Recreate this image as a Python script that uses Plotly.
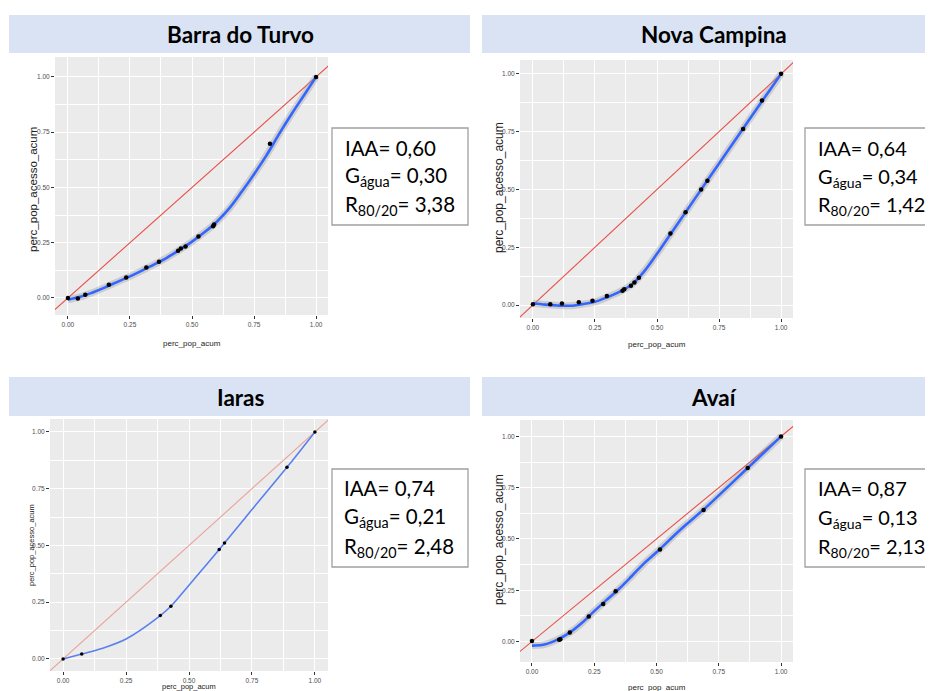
import plotly.graph_objects as go

# page is shown with the browser's default 8px body margin; keep the figure inside the body box
OFF = 8
W, H = 933 - 2 * OFF, 691 - OFF

# ---------------- data ----------------
titles = ["Barra do Turvo", "Nova Campina", "Iaras", "Avaí"]
iaa = ["0,60", "0,64", "0,74", "0,87"]
g_agua = ["0,30", "0,34", "0,21", "0,13"]
r_80_20 = ["3,38", "1,42", "2,48", "2,13"]

tick_vals = [0, 0.25, 0.5, 0.75, 1.0]
tick_text = ["0.00", "0.25", "0.50", "0.75", "1.00"]
equality_line = [-0.2, 1.2]

# Barra do Turvo
bt_x = [0.0, 0.04, 0.07, 0.165, 0.235, 0.316, 0.367, 0.444, 0.455, 0.474, 0.526, 0.585, 0.589, 0.814, 1.0]
bt_y = [0.0, -0.002, 0.015, 0.06, 0.093, 0.138, 0.164, 0.214, 0.224, 0.233, 0.278, 0.325, 0.332, 0.698, 1.0]
bt_fit_x = [0.0, 0.05, 0.1, 0.15, 0.2, 0.25, 0.3, 0.35, 0.4, 0.45, 0.5, 0.55, 0.6, 0.65, 0.7, 0.75, 0.8, 0.85, 0.9, 0.95, 1.0]
bt_fit_y = [-0.008, 0.005, 0.025, 0.048, 0.073, 0.098, 0.125, 0.153, 0.183, 0.218, 0.255, 0.297, 0.345, 0.405, 0.48, 0.56, 0.645, 0.74, 0.83, 0.915, 1.0]

# Nova Campina
nc_x = [0.0, 0.07, 0.117, 0.185, 0.24, 0.298, 0.361, 0.368, 0.395, 0.409, 0.427, 0.554, 0.615, 0.678, 0.703, 0.847, 0.923, 1.0]
nc_y = [0.003, 0.003, 0.007, 0.012, 0.019, 0.039, 0.062, 0.068, 0.084, 0.098, 0.118, 0.31, 0.401, 0.50, 0.538, 0.762, 0.885, 1.0]
nc_fit_x = [0.0, 0.05, 0.1, 0.15, 0.2, 0.25, 0.3, 0.35, 0.4, 0.45, 0.5, 0.55, 0.6, 0.65, 0.7, 0.75, 0.8, 0.85, 0.9, 0.95, 1.0]
nc_fit_y = [0.008, 0.002, -0.002, -0.003, 0.004, 0.014, 0.034, 0.058, 0.09, 0.148, 0.222, 0.30, 0.378, 0.456, 0.534, 0.612, 0.69, 0.768, 0.846, 0.923, 1.0]

# Iaras
ia_x = [0.0, 0.074, 0.386, 0.428, 0.62, 0.641, 0.889, 1.0]
ia_y = [0.0, 0.022, 0.191, 0.232, 0.482, 0.511, 0.844, 1.0]
ia_fit_x = [0.0, 0.074, 0.15, 0.25, 0.386, 0.428, 0.5, 0.62, 0.641, 0.75, 0.889, 1.0]
ia_fit_y = [0.0, 0.022, 0.045, 0.088, 0.191, 0.232, 0.325, 0.482, 0.511, 0.658, 0.844, 1.0]

# Avaí
av_x = [0.0, 0.109, 0.114, 0.152, 0.228, 0.286, 0.336, 0.514, 0.689, 0.866, 1.0]
av_y = [0.002, 0.008, 0.011, 0.044, 0.122, 0.183, 0.245, 0.448, 0.641, 0.846, 1.0]
av_fit_x = [0.0, 0.05, 0.1, 0.15, 0.2, 0.25, 0.3, 0.35, 0.4, 0.45, 0.5, 0.6, 0.7, 0.8, 0.9, 1.0]
av_fit_y = [-0.02, -0.015, 0.008, 0.042, 0.09, 0.148, 0.203, 0.257, 0.318, 0.381, 0.435, 0.55, 0.655, 0.77, 0.885, 1.0]

series = [
    (bt_x, bt_y, bt_fit_x, bt_fit_y),
    (nc_x, nc_y, nc_fit_x, nc_fit_y),
    (ia_x, ia_y, ia_fit_x, ia_fit_y),
    (av_x, av_y, av_fit_x, av_fit_y),
]

# ---------------- layout (pixel geometry of the page) ----------------
def fx(px):
    return (px - OFF) / W

def fy(py):
    return 1 - (py - OFF) / H

ARIAL = "Liberation Sans, Arial, sans-serif"
CALIBRI = "Lato, Open Sans, sans-serif"

panels = [
    dict(box=(55, 57, 328, 315), xr=[-0.052, 1.048], yr=[-0.077, 1.09],
         tickfont=dict(family=ARIAL, size=6.5, color="#4D4D4D"),
         xt=(192, 343, 8), yt=(33, 190, 11.5),
         red="#E8504A", blue="#3366FF", lw=2.6, ms=4.5,
         banner=(9, 15, 470, 53), tbox=(332, 128, 468, 225), tx=343, ty=(148, 176, 205), fs=20.5),
    dict(box=(520, 60, 793, 318), xr=[-0.052, 1.048], yr=[-0.056, 1.06],
         tickfont=dict(family=ARIAL, size=6.5, color="#4D4D4D"),
         xt=(657, 345, 8), yt=(499, 188, 12),
         red="#E8504A", blue="#3366FF", lw=2.6, ms=4.5,
         banner=(482, 15, 945, 53), tbox=(805, 128, 945, 225), tx=816, ty=(148, 177, 205), fs=20),
    dict(box=(50, 419, 328, 671), xr=[-0.052, 1.052], yr=[-0.053, 1.057],
         tickfont=dict(family=ARIAL, size=6.5, color="#4D4D4D"),
         xt=(189, 686, 7.5), yt=(31, 545, 7.5),
         red="#EBA29C", blue="#5A80EE", lw=1.6, ms=3.5,
         banner=(9, 377, 470, 416), tbox=(332, 469, 468, 567), tx=342, ty=(488, 517, 547), fs=20.5),
    dict(box=(520, 420, 793, 662), xr=[-0.048, 1.048], yr=[-0.10, 1.08],
         tickfont=dict(family=ARIAL, size=6.5, color="#4D4D4D"),
         xt=(657, 687, 8), yt=(499, 540, 12),
         red="#E8504A", blue="#3366FF", lw=2.6, ms=4.5,
         banner=(482, 377, 945, 416), tbox=(805, 469, 945, 567), tx=816, ty=(488, 518, 547), fs=20),
]

fig = go.Figure()
shapes = []
annotations = []
layout_axes = {}

for i, (p, (sx, sy, fxs, fys)) in enumerate(zip(panels, series)):
    n = "" if i == 0 else str(i + 1)
    xa, ya = "x" + n, "y" + n
    x0, y0, x1, y1 = p["box"]
    small = i == 2

    fig.add_trace(go.Scatter(x=equality_line, y=equality_line, mode="lines", xaxis=xa, yaxis=ya,
                             line=dict(color=p["red"], width=1.1),
                             hoverinfo="skip", showlegend=False))
    if not small:
        fig.add_trace(go.Scatter(x=fxs, y=fys, mode="lines", xaxis=xa, yaxis=ya,
                                 line=dict(color="rgba(150,150,150,0.35)", width=7, shape="spline"),
                                 hoverinfo="skip", showlegend=False))
    fig.add_trace(go.Scatter(x=fxs, y=fys, mode="lines", xaxis=xa, yaxis=ya,
                             line=dict(color=p["blue"], width=p["lw"], shape="spline"),
                             showlegend=False))
    fig.add_trace(go.Scatter(x=sx, y=sy, mode="markers", xaxis=xa, yaxis=ya,
                             marker=dict(color="black", size=p["ms"]),
                             showlegend=False))

    common = dict(showgrid=True, gridcolor="white", gridwidth=1.1, zeroline=False,
                  tickvals=tick_vals, ticktext=tick_text, ticks="outside", ticklen=3,
                  tickcolor="#333333", tickwidth=0.8, tickfont=p["tickfont"], showline=False,
                  minor=dict(tickvals=[0.125, 0.375, 0.625, 0.875], showgrid=True,
                             gridcolor="white", gridwidth=0.5, ticks=""),
                  fixedrange=True)
    layout_axes["xaxis" + n] = dict(common, domain=[fx(x0), fx(x1)], range=p["xr"], anchor=ya)
    layout_axes["yaxis" + n] = dict(common, domain=[fy(y1), fy(y0)], range=p["yr"], anchor=xa)

    shapes.append(dict(type="rect", xref="paper", yref="paper", x0=fx(x0), x1=fx(x1), y0=fy(y1), y1=fy(y0),
                       fillcolor="#EBEBEB", line=dict(width=0), layer="below"))

    # banner
    bx0, by0, bx1, by1 = p["banner"]
    shapes.append(dict(type="rect", xref="paper", yref="paper", x0=fx(bx0), x1=fx(bx1), y0=fy(by1), y1=fy(by0),
                       fillcolor="#DAE3F3", line=dict(width=0), layer="below"))
    annotations.append(dict(text="<b>%s</b>" % titles[i], xref="paper", yref="paper",
                            x=fx(240 if i % 2 == 0 else 714), y=fy((by0 + by1) / 2 + 1),
                            xanchor="center", yanchor="middle", showarrow=False,
                            font=dict(family=CALIBRI, size=22.5, color="black")))

    # axis titles
    xtx, xty, xts = p["xt"]
    annotations.append(dict(text="perc_pop_acum", xref="paper", yref="paper", x=fx(xtx), y=fy(xty),
                            xanchor="center", yanchor="middle", showarrow=False,
                            font=dict(family=ARIAL, size=xts, color="#222222")))
    ytx, yty, yts = p["yt"]
    annotations.append(dict(text="perc_pop_acesso_acum", xref="paper", yref="paper", x=fx(ytx), y=fy(yty),
                            xanchor="center", yanchor="middle", textangle=-90, showarrow=False,
                            font=dict(family=ARIAL, size=yts, color="#222222")))

    # indicator text box
    tx0, ty0, tx1, ty1 = p["tbox"]
    shapes.append(dict(type="rect", xref="paper", yref="paper", x0=fx(tx0), x1=fx(tx1), y0=fy(ty1), y1=fy(ty0),
                       fillcolor="white", line=dict(color="#A0A0A0", width=1.3)))
    lines = ["IAA= %s" % iaa[i], "G<sub>água</sub>= %s" % g_agua[i], "R<sub>80/20</sub>= %s" % r_80_20[i]]
    for txt, ly in zip(lines, p["ty"]):
        annotations.append(dict(text=txt, xref="paper", yref="paper", x=fx(p["tx"]), y=fy(ly),
                                xanchor="left", yanchor="middle", showarrow=False,
                                font=dict(family=CALIBRI, size=p["fs"], color="black")))

fig.update_layout(width=W, height=H, margin=dict(l=0, r=0, t=0, b=0),
                  paper_bgcolor="white", plot_bgcolor="rgba(0,0,0,0)",
                  shapes=shapes, annotations=annotations, showlegend=False, **layout_axes)

fig.write_html("out.html")
